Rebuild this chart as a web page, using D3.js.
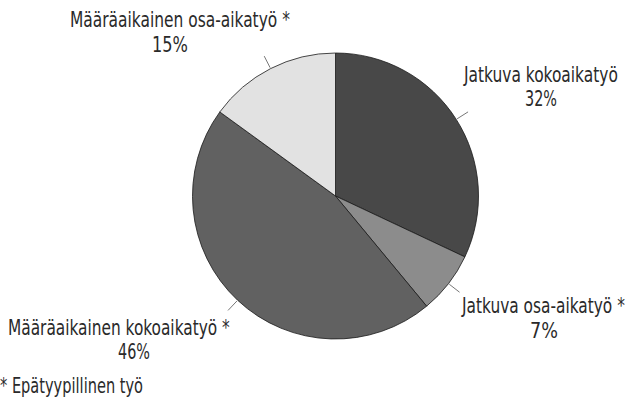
<!DOCTYPE html>
<html>
<head>
<meta charset="utf-8">
<script src="https://cdn.jsdelivr.net/npm/d3@7"></script>
<style>
  html, body { margin: 0; padding: 0; background: #ffffff; }
  svg { display: block; }
  text { font-family: "Liberation Sans Narrow", "DejaVu Sans Condensed", "Roboto", sans-serif; fill: #2a2a2a; }
</style>
</head>
<body>
<script>
// Data
const categories = ["Jatkuva kokoaikatyö", "Jatkuva osa-aikatyö *", "Määräaikainen kokoaikatyö *", "Määräaikainen osa-aikatyö *"];
const values = [32, 7, 46, 15];
const percentLabels = ["32%", "7%", "46%", "15%"];
const colors = ["#484848", "#8c8c8c", "#616161", "#e2e2e2"];
const footnote = "* Epätyypillinen työ";

// Label placement: left edge, baseline and target width of name / percent lines
const labelPos = [
  { x1: 464, y1: 82, w1: 154, x2: 525, y2: 106, w2: 32 },
  { x1: 462, y1: 313, w1: 163, x2: 530, y2: 338, w2: 28 },
  { x1: 8, y1: 335, w1: 222, x2: 118, y2: 359, w2: 32 },
  { x1: 70, y1: 27, w1: 220, x2: 152, y2: 52, w2: 36 }
];

const W = 630, H = 404;
const cx = 335.5, cy = 196, R = 143;

const svg = d3.select("body").append("svg").attr("width", W).attr("height", H);
const g = svg.append("g").attr("transform", `translate(${cx},${cy})`);

const pie = d3.pie().sort(null).value(d => d.v);
const arcs = pie(values.map((v, i) => ({ v, i })));
const arc = d3.arc().innerRadius(0).outerRadius(R);

g.selectAll("path.slice").data(arcs).join("path")
  .attr("class", "slice")
  .attr("d", arc)
  .attr("fill", d => colors[d.data.i])
  .attr("stroke", "#1a1a1a")
  .attr("stroke-width", 0.8);

// leader ticks
g.selectAll("line.tick").data(arcs).join("line")
  .attr("class", "tick")
  .each(function(d) {
    const a = (d.startAngle + d.endAngle) / 2;
    const s = Math.sin(a), c = -Math.cos(a);
    d3.select(this)
      .attr("x1", s * (R + 1)).attr("y1", c * (R + 1))
      .attr("x2", s * (R + 14)).attr("y2", c * (R + 14));
  })
  .attr("stroke", "#777")
  .attr("stroke-width", 1);

// labels: condensed by a horizontal scale so each fits its width
const lbl = svg.append("g");
function fitText(x, y, w, str) {
  const t = lbl.append("text").attr("font-size", 21).text(str);
  const nat = t.node().getComputedTextLength();
  const sx = Math.min(1, w / nat);
  t.attr("transform", `translate(${x},${y}) scale(${sx},1)`);
}
categories.forEach((name, i) => {
  const p = labelPos[i];
  fitText(p.x1, p.y1, p.w1, name);
  fitText(p.x2, p.y2, p.w2, percentLabels[i]);
});

fitText(0, 393, 143, footnote);
</script>
</body>
</html>
